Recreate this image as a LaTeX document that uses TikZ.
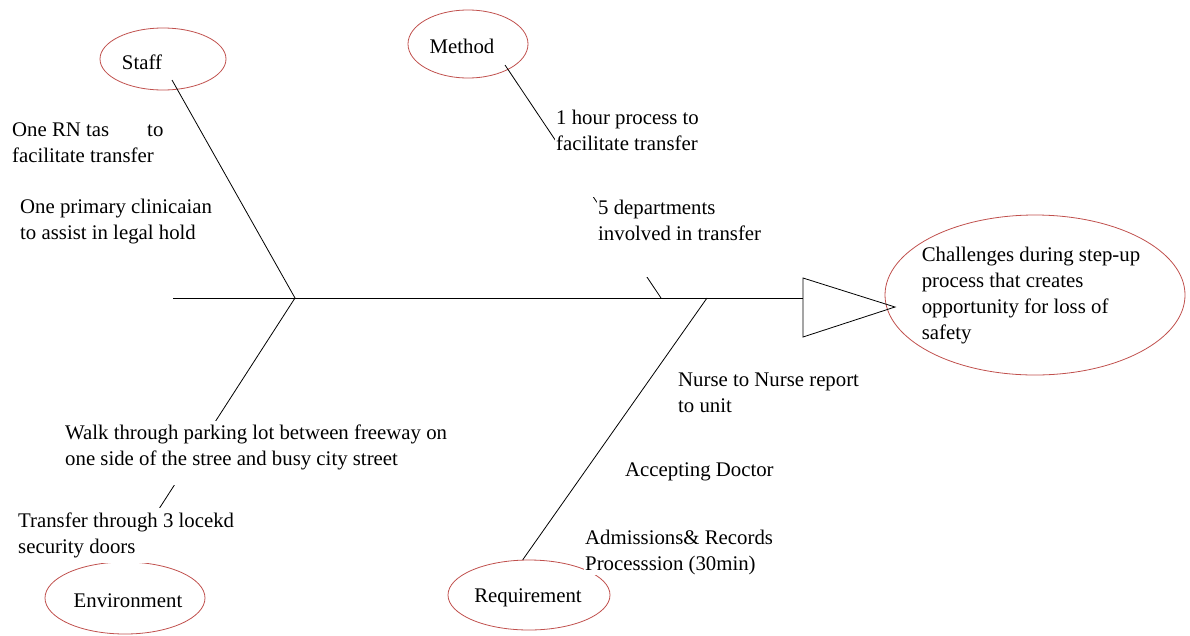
\documentclass[tikz,border=0pt]{standalone}
\usepackage{fontspec}
\setmainfont{Liberation Serif}
\usetikzlibrary{shapes.geometric,calc}
\definecolor{ovalred}{RGB}{192,80,77}

\tikzset{
  oval/.style={ellipse, draw=ovalred, line width=0.8pt, inner sep=0pt},
  note/.style={anchor=north west, align=left, fill=white, inner xsep=1pt, inner ysep=0pt},
  bone/.style={line width=0.8pt},
}

\begin{document}
\begin{tikzpicture}[x=1pt,y=-1pt,font=\fontsize{20.8}{26}\selectfont]
\useasboundingbox (0,0) rectangle (1190,635);

% head of the fish
\node[oval, minimum width=300pt, minimum height=160pt] (effect) at (1035,295) {};
\node[align=left] (effectlbl) at (1031,296)
  {Challenges during step-up\\process that creates\\opportunity for loss of\\safety};
\draw[bone] (803,278) -- (803,337) -- (895,307) -- cycle;

% category ovals
\node[oval, minimum width=126pt, minimum height=62pt] (staff) at (163,59) {};
\node[anchor=base] (stafflbl) at (142,69) {Staff};
\node[oval, minimum width=120pt, minimum height=68pt] (method) at (468,44) {};
\node[anchor=base] (methodlbl) at (462,53) {Method};
\node[oval, minimum width=160pt, minimum height=72pt] (environment) at (125,598) {};
\node[anchor=base] (environmentlbl) at (128,607) {Environment};
\node[oval, minimum width=162pt, minimum height=70pt] (requirement) at (529,595) {};
\node[anchor=base] (requirementlbl) at (528,602) {Requirement};

% spine and bones
\coordinate (tail) at (173,298);
\coordinate (headbase) at (803,298);
\coordinate (sj) at (295,298);
\coordinate (mj) at (661,298);
\coordinate (rj) at (707,298);
\coordinate (sstart) at ($(staff.center)+(9,21)$);
\coordinate (mstart) at ($(method.center)+(37,21)$);
\draw[bone] (tail) -- (headbase);
\draw[bone] (sstart) -- (sj);
\draw[bone] (mstart) -- (mj);
\draw[bone] (sj) -- (environment.north);
\draw[bone] (requirement.100) -- (rj);

% causes
\node[note] (rn) at (11,123) {One RN tas\hspace{38pt}to\\facilitate transfer};
\node[note] (clin) at (19,199) {One primary clinicaian\\to assist in legal hold};
\node[note, text depth=46pt] (hour) at (555,110) {1 hour process to\\facilitate transfer};
\node[note, text depth=36pt] (dept) at (597,200) {5 departments\\involved in transfer};
\node[note, inner ysep=4pt, text depth=15pt] (walk) at (64,421) {Walk through parking lot between freeway on\\one side of the stree and busy city street};
\node[note, inner ysep=5pt] (doors) at (17,508) {Transfer through 3 locekd\\security doors};
\node[note] (report) at (677,373) {Nurse to Nurse report\\to unit};
\node[note] (doctor) at (624,463) {Accepting Doctor};
\node[note] (records) at (584,530) {Admissions\& Records\\Processsion (30min)};
\end{tikzpicture}
\end{document}
